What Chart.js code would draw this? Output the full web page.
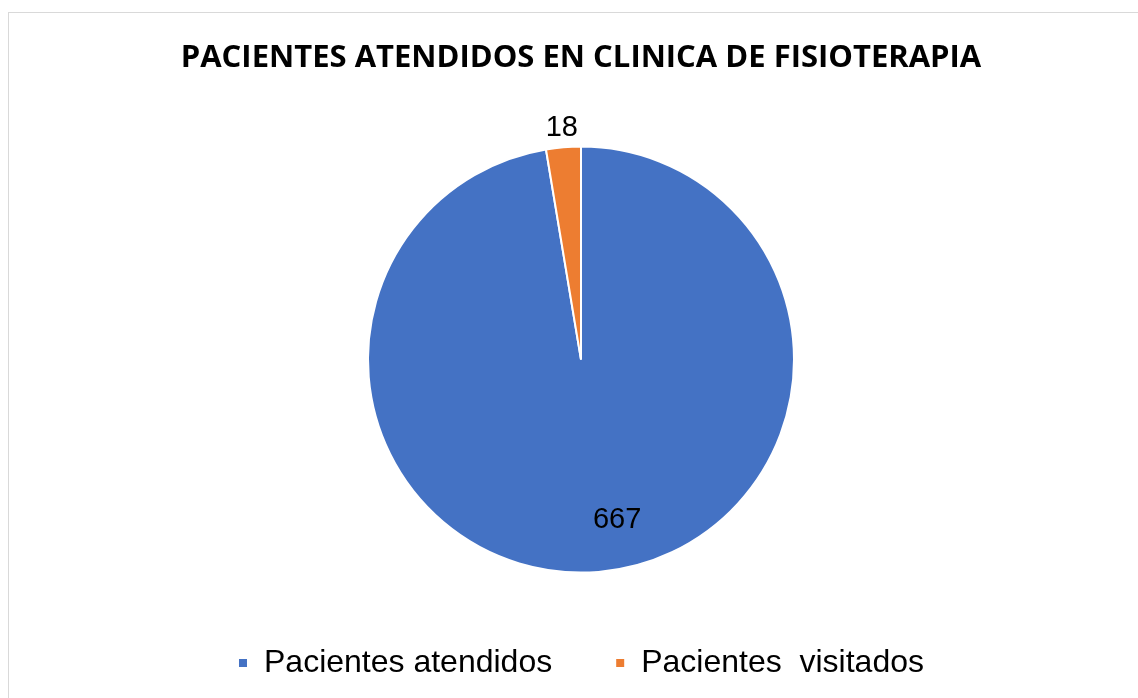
<!DOCTYPE html>
<html>
<head>
<meta charset="utf-8">
<script src="https://cdn.jsdelivr.net/npm/chart.js@4"></script>
<style>
  html, body { margin: 0; padding: 0; background: #fff; }
  #wrap { position: relative; width: 1138px; height: 698px; overflow: hidden; }
  #marco { position: absolute; left: 8px; top: 12px; width: 1140px; height: 700px; border: 1px solid #d9d9d9; box-sizing: border-box; }
  #grafica { position: absolute; left: 0; top: 0; }
</style>
</head>
<body>
<div id="wrap">
  <div id="marco"></div>
  <canvas id="grafica" width="1138" height="698"></canvas>
</div>
<script>
// datos
const categorias = ['Pacientes atendidos', 'Pacientes  visitados'];
const pacientes = [667, 18];
const titulo = 'PACIENTES ATENDIDOS EN CLINICA DE FISIOTERAPIA';

const colores = ['#4472C4', '#ED7D31'];

// etiquetas de valor sobre cada sector (no hay chartjs-datalabels)
const etiquetasValor = {
    id: 'etiquetasValor',
    afterDatasetsDraw(chart, args, opts) {
        const ctx = chart.ctx;
        const meta = chart.getDatasetMeta(0);
        ctx.save();
        ctx.font = opts.font;
        ctx.fillStyle = '#000';
        ctx.textAlign = 'center';
        ctx.textBaseline = 'middle';
        meta.data.forEach(function(arc, i) {
            const p = arc.getProps(['x', 'y', 'startAngle', 'endAngle', 'outerRadius'], true);
            const pos = opts.posiciones[i];
            const ang = (p.startAngle + p.endAngle) / 2 + pos.giro * Math.PI / 180;
            const r = pos.factor * p.outerRadius + pos.extra;
            ctx.fillText(chart.data.datasets[0].data[i], p.x + Math.cos(ang) * r, p.y + Math.sin(ang) * r);
        });
        ctx.restore();
    }
};

const ctx = document.getElementById('grafica').getContext('2d');
const chart = new Chart(ctx, {
    type: 'pie',
    data: {
        labels: categorias,
        datasets: [{
            data: pacientes,
            backgroundColor: colores,
            borderColor: '#ffffff',
            borderWidth: 2,
            radius: 213
        }]
    },
    options: {
        responsive: false,
        animation: false,
        layout: {
            padding: { left: 24, right: 0, top: 0, bottom: 9 }
        },
        plugins: {
            title: {
                display: true,
                text: titulo,
                color: '#000',
                font: { family: 'Open Sans', size: 31, weight: 'bold', lineHeight: 1.2 },
                padding: { top: 40, bottom: 58 }
            },
            legend: {
                position: 'bottom',
                labels: {
                    color: '#000',
                    font: { family: 'Liberation Sans', size: 32 },
                    boxWidth: 10,
                    boxHeight: 10,
                    padding: 63
                }
            },
            tooltip: { enabled: false },
            etiquetasValor: {
                font: '29px "Liberation Sans"',
                posiciones: [
                    { factor: 0.77, extra: 0, giro: -8 },
                    { factor: 1, extra: 19, giro: 0 }
                ]
            }
        }
    },
    plugins: [etiquetasValor]
});
</script>
</body>
</html>
